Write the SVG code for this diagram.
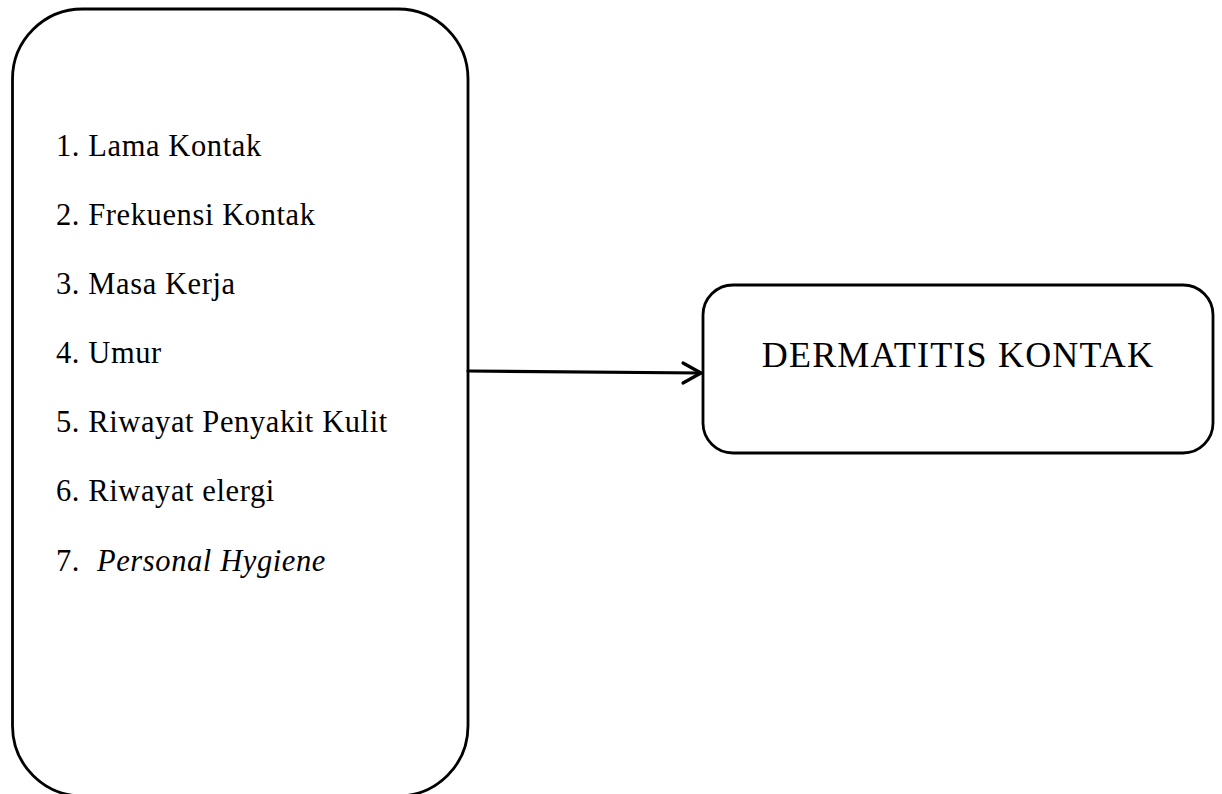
<svg xmlns="http://www.w3.org/2000/svg" width="1222" height="794" viewBox="0 0 1222 794">
<style>
.box{fill:none;stroke:#000;stroke-width:2.8}
.t{font-family:"Liberation Serif","Times New Roman",serif;font-size:30.5px;letter-spacing:0.6px;fill:#000}
.big{font-family:"Liberation Serif","Times New Roman",serif;font-size:36px;letter-spacing:1.2px;fill:#000}
.conn{fill:none;stroke:#000;stroke-width:3.2;stroke-linecap:round;stroke-linejoin:round}
</style>
<rect width="1222" height="794" fill="#fff"/>
<g id="factors">
<rect class="box" x="12.5" y="9" width="455.5" height="787" rx="70" ry="70"/>
<text class="t" x="56" y="156">1. Lama Kontak</text>
<text class="t" x="56" y="225">2. Frekuensi Kontak</text>
<text class="t" x="56" y="294">3. Masa Kerja</text>
<text class="t" x="56" y="363">4. Umur</text>
<text class="t" x="56" y="432">5. Riwayat Penyakit Kulit</text>
<text class="t" x="56" y="501">6. Riwayat elergi</text>
<text class="t" x="56" y="571">7.<tspan x="97" font-style="italic">Personal Hygiene</tspan></text>
</g>
<g id="outcome">
<rect class="box" x="703" y="285" width="510" height="168" rx="30" ry="30"/>
<text class="big" x="958" y="367" text-anchor="middle">DERMATITIS KONTAK</text>
</g>
<g id="connectors">
<path class="conn" d="M468 371 L701 373"/>
<path class="conn" d="M683 363 L701 373 L683 383"/>
</g>
</svg>
